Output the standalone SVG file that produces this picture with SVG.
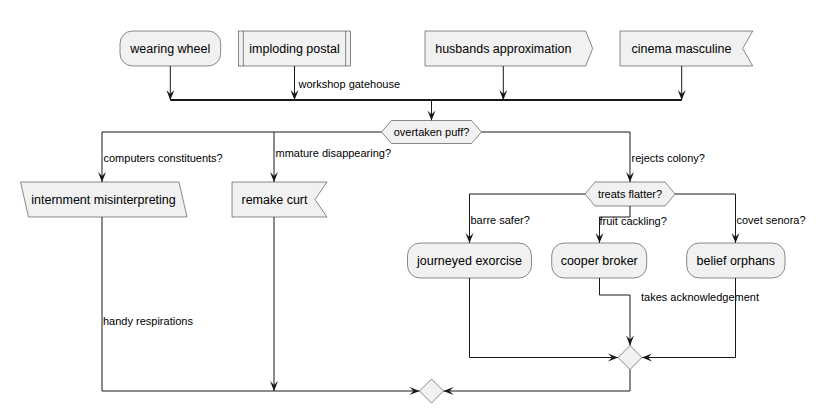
<svg xmlns="http://www.w3.org/2000/svg" width="816" height="414" viewBox="0 0 816 414">
<defs>
<style>
.n{fill:#F1F1F1;stroke:#181818;stroke-width:0.5}
.t{font-family:"Liberation Sans",Arial,sans-serif;font-size:12.5px;fill:#000;text-anchor:middle}
.l{font-family:"Liberation Sans",Arial,sans-serif;font-size:11px;fill:#000}
.c{fill:none;stroke:#181818;stroke-width:1}
.bar{fill:none;stroke:#181818;stroke-width:2}
</style>
<marker id="ah" viewBox="-11 -5 12 10" refX="0" refY="0" markerWidth="12" markerHeight="10" markerUnits="userSpaceOnUse" orient="auto">
<path d="M0,0 L-10,-4 L-6,0 L-10,4 Z" fill="#181818"/>
</marker>
</defs>
<rect width="816" height="414" fill="#FFFFFF"/>
<g id="connectors">
<line class="c" x1="170.3" y1="66" x2="170.3" y2="100" marker-end="url(#ah)"/>
<line class="c" x1="294.5" y1="66" x2="294.5" y2="100" marker-end="url(#ah)"/>
<text class="l" x="298.5" y="87.5">workshop gatehouse</text>
<line class="c" x1="503.3" y1="66" x2="503.3" y2="100" marker-end="url(#ah)"/>
<line class="c" x1="681.7" y1="66" x2="681.7" y2="100" marker-end="url(#ah)"/>
<line class="bar" x1="170.3" y1="100" x2="681.7" y2="100"/>
<line class="c" x1="431.5" y1="100" x2="431.5" y2="120.5" marker-end="url(#ah)"/>
<polyline class="c" points="381.5,132 102,132 102,182" marker-end="url(#ah)"/>
<text class="l" x="103.5" y="162">computers constituents?</text>
<line class="c" x1="274" y1="132" x2="274" y2="182" marker-end="url(#ah)"/>
<text class="l" x="275.5" y="157">mmature disappearing?</text>
<polyline class="c" points="481.5,132 630,132 630,182" marker-end="url(#ah)"/>
<text class="l" x="631.5" y="162">rejects colony?</text>
<polyline class="c" points="585,194 469.5,194 469.5,243" marker-end="url(#ah)"/>
<text class="l" x="470.5" y="224">barre safer?</text>
<polyline class="c" points="630,206 630,217 599.5,217 599.5,243" marker-end="url(#ah)"/>
<text class="l" x="599.5" y="225">fruit cackling?</text>
<polyline class="c" points="675,194 735.5,194 735.5,243" marker-end="url(#ah)"/>
<text class="l" x="736.5" y="224">covet senora?</text>
<polyline class="c" points="469.5,278 469.5,357.5 618,357.5" marker-end="url(#ah)"/>
<polyline class="c" points="599.5,278 599.5,295 630,295 630,345.5" marker-end="url(#ah)"/>
<text class="l" x="641" y="300.5">takes acknowledgement</text>
<polyline class="c" points="735.5,278 735.5,357.5 642,357.5" marker-end="url(#ah)"/>
<polyline class="c" points="630,369.5 630,391 443.5,391" marker-end="url(#ah)"/>
<polyline class="c" points="102,217 102,391 419.5,391" marker-end="url(#ah)"/>
<text class="l" x="103" y="325">handy respirations</text>
<line class="c" x1="274" y1="217" x2="274" y2="391" marker-end="url(#ah)"/>
</g>
<g id="wearing-wheel">
<rect class="n" x="120" y="31" width="100.7" height="35" rx="12.5" ry="12.5"/>
<text class="t" x="170.3" y="53">wearing wheel</text>
</g>
<g id="imploding-postal">
<rect class="n" x="238.3" y="31" width="112.4" height="35"/>
<line class="n" x1="243.3" y1="31" x2="243.3" y2="66"/>
<line class="n" x1="345.7" y1="31" x2="345.7" y2="66"/>
<text class="t" x="294.5" y="53">imploding postal</text>
</g>
<g id="husbands-approximation">
<polygon class="n" points="425,31 585.7,31 592.7,48.5 585.7,66 425,66"/>
<text class="t" x="503.3" y="53">husbands approximation</text>
</g>
<g id="cinema-masculine">
<polygon class="n" points="620,31 752.7,31 742.7,48.5 752.7,66 620,66"/>
<text class="t" x="681.5" y="53">cinema masculine</text>
</g>
<g id="overtaken-puff">
<polygon class="n" points="381.5,132 391.5,120.5 471.5,120.5 481.5,132 471.5,143.5 391.5,143.5"/>
<text class="l" x="431.5" y="136" text-anchor="middle">overtaken puff?</text>
</g>
<g id="internment-misinterpreting">
<polygon class="n" points="20.5,182 179,182 187,217 28.5,217"/>
<text class="t" x="103.5" y="204">internment misinterpreting</text>
</g>
<g id="remake-curt">
<polygon class="n" points="232,182 327,182 315,199.5 327,217 232,217"/>
<text class="t" x="274.5" y="204">remake curt</text>
</g>
<g id="treats-flatter">
<polygon class="n" points="585,194 595,182 665,182 675,194 665,206 595,206"/>
<text class="l" x="630" y="198" text-anchor="middle">treats flatter?</text>
</g>
<g id="journeyed-exorcise">
<rect class="n" x="407.5" y="243" width="124" height="35" rx="12.5" ry="12.5"/>
<text class="t" x="469.5" y="265">journeyed exorcise</text>
</g>
<g id="cooper-broker">
<rect class="n" x="551.7" y="243" width="95" height="35" rx="12.5" ry="12.5"/>
<text class="t" x="599.2" y="265">cooper broker</text>
</g>
<g id="belief-orphans">
<rect class="n" x="686.7" y="243" width="98.3" height="35" rx="12.5" ry="12.5"/>
<text class="t" x="735.8" y="265">belief orphans</text>
</g>
<g id="merge-1">
<polygon class="n" points="618,357.5 630,345.5 642,357.5 630,369.5"/>
</g>
<g id="merge-2">
<polygon class="n" points="419.5,391 431.5,379 443.5,391 431.5,403"/>
</g>
</svg>
